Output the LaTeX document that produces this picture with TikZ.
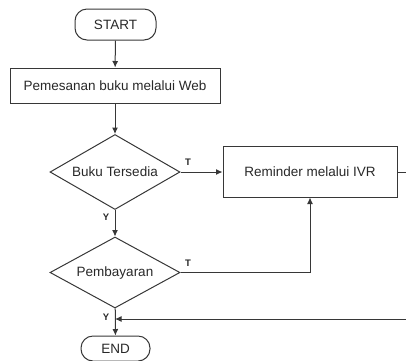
\documentclass[tikz,border=0pt]{standalone}
\usepackage{fontspec}
\setmainfont{Liberation Sans}
\usetikzlibrary{shapes.geometric,arrows.meta}
\definecolor{ln}{RGB}{55,55,55}
\definecolor{tx}{RGB}{40,40,40}
\tikzset{
  base/.style={draw=ln, line width=1pt, text=tx, inner sep=0pt, font=\fontsize{13.5}{15}\selectfont},
  term/.style={base, rectangle, rounded corners=12pt},
  procbox/.style={base, rectangle},
  decide/.style={base, diamond, aspect=1.73, minimum width=130pt},
  conn/.style={draw=ln, line width=1pt, -{Latex[length=6.5pt,width=6pt]}},
  plainconn/.style={draw=ln, line width=1pt},
  lbl/.style={text=tx, inner sep=0pt, font=\fontsize{9.5}{11}\selectfont\bfseries}
}
\begin{document}
\begin{tikzpicture}[x=1pt,y=-1pt]
\useasboundingbox (0,0) rectangle (406,360);
\node[term, minimum width=81pt, minimum height=31pt] (start) at (115.5,24.5) {START};
\node[procbox, minimum width=210pt, minimum height=35pt] (web) at (115,85.5) {Pemesanan buku melalui Web};
\node[decide, minimum height=75pt] (d1) at (115,172) {Buku Tersedia};
\node[procbox, minimum width=174pt, minimum height=51pt] (ivr) at (310,171.5) {Reminder melalui IVR};
\node[decide, minimum height=71pt] (d2) at (115,272.5) {Pembayaran};
\node[term, minimum width=69pt, minimum height=25pt] (end) at (115.5,348.5) {END};
\coordinate (r1) at (406,172);
\coordinate (r2) at (406,319);
\coordinate (j) at (115,319);
\coordinate (k) at (310,272.5);
\draw[conn] (start) -- (web);
\draw[conn] (web) -- (d1);
\draw[conn] (d1.east) -- (ivr.west |- d1.east);
\draw[plainconn] (ivr.east |- r1) -- (r1);
\draw[conn] (d1) -- (d2);
\draw[conn] (d2.east) -- (k) -- (ivr.south -| k);
\draw[conn] (d2) -- (end);
\draw[conn] (r2) -- (j);
\node[lbl] (t1) at (188,162) {T};
\node[lbl] (t2) at (188,263) {T};
\node[lbl] (y1) at (106,217) {Y};
\node[lbl] (y2) at (106,317) {Y};
\end{tikzpicture}
\end{document}
